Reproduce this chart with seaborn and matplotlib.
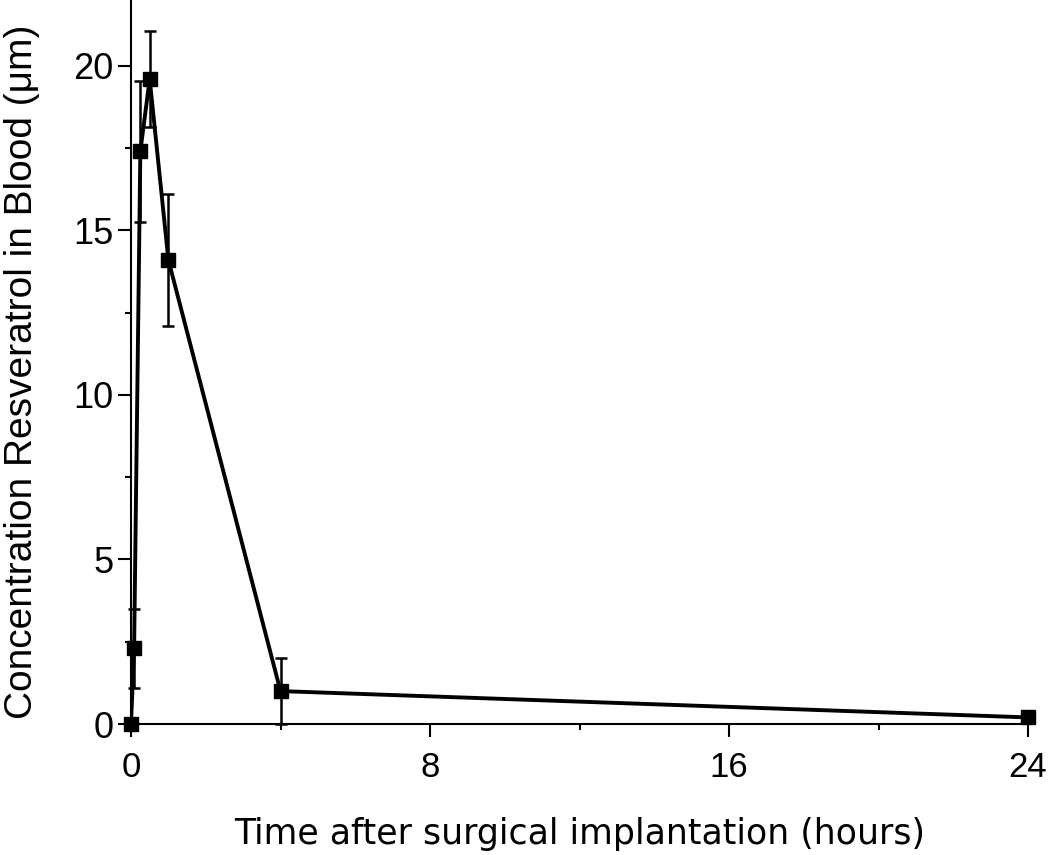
import pandas as pd
import numpy as np
import matplotlib
matplotlib.use('Agg')
import matplotlib.pyplot as plt
import seaborn as sns
from matplotlib.ticker import MultipleLocator

# Values
time_h = [0, 0.083, 0.25, 0.5, 1, 4, 24]
conc_um = [0.0, 2.3, 17.4, 19.6, 14.1, 1.0, 0.2]
conc_err = [0.0, 1.2, 2.15, 1.45, 2.0, 1.0, 0.1]

df = pd.DataFrame({'time': time_h, 'conc': conc_um, 'err': conc_err})

sns.set_style('ticks')
plt.rcParams['font.family'] = ['Liberation Sans', 'DejaVu Sans']
plt.rcParams['text.color'] = 'black'
plt.rcParams['axes.labelcolor'] = 'black'

fig = plt.figure(figsize=(10.5, 8.55), dpi=100)
ax = fig.add_axes([131 / 1050, 1 - 724 / 855, (1028 - 131) / 1050, 724 / 855])

# connecting line
sns.lineplot(data=df, x='time', y='conc', ax=ax, color='black', linewidth=2.8,
             sort=False, zorder=2)

# error bars and square markers
ax.errorbar(df['time'], df['conc'], yerr=df['err'], fmt='none', ecolor='black',
            elinewidth=1.8, capsize=4.3, capthick=1.8, zorder=3, clip_on=False)
ax.plot(df['time'], df['conc'], linestyle='none', marker='s', markersize=10.5,
        color='black', zorder=4, clip_on=False)

ax.set_xlim(0, 24)
ax.set_ylim(0, 22)
ax.xaxis.set_major_locator(MultipleLocator(8))
ax.xaxis.set_minor_locator(MultipleLocator(4))
ax.yaxis.set_major_locator(MultipleLocator(5))
ax.yaxis.set_minor_locator(MultipleLocator(2.5))

ax.tick_params(which='major', direction='out', length=9.5, width=1.5,
               colors='black')
ax.tick_params(which='minor', direction='out', length=4.5, width=1.5,
               colors='black')
ax.tick_params(axis='x', which='major', labelsize=25, pad=10)
ax.tick_params(axis='y', which='major', labelsize=26, pad=3)

for side in ['top', 'right']:
    ax.spines[side].set_visible(False)
for side in ['left', 'bottom']:
    ax.spines[side].set_linewidth(1.5)
    ax.spines[side].set_color('black')

ax.set_xlabel('Time after surgical implantation (hours)', fontsize=25,
              family=['DejaVu Sans'], labelpad=24)
ax.set_ylabel('Concentration Resveratrol in Blood (\u03bcm)', fontsize=28)
ax.yaxis.set_label_coords(-0.101, 0.486)

fig.savefig('out.png', dpi=100)
